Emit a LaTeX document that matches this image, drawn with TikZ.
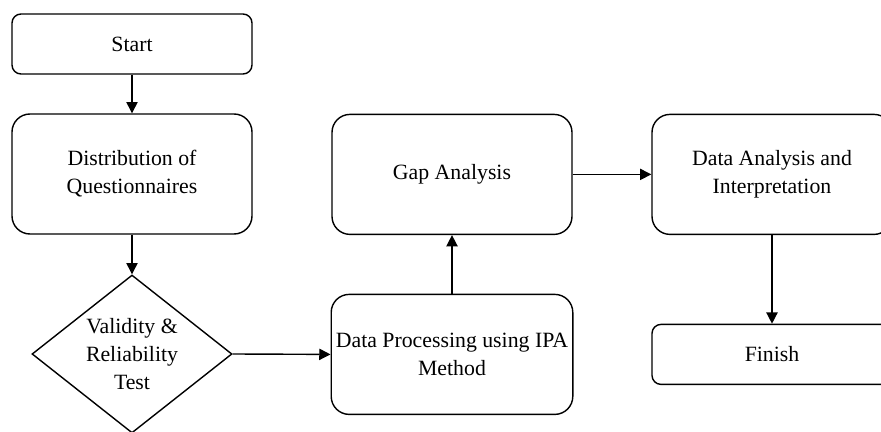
\documentclass[tikz,border=0pt]{standalone}
\usepackage{fontspec}
\setmainfont{Liberation Serif}
\usetikzlibrary{shapes.geometric,arrows.meta}

\begin{document}
\begin{tikzpicture}[
  flowbox/.style={draw, line width=1pt, rounded corners=0.45cm, minimum width=6cm, minimum height=3cm, align=center},
  endbox/.style={draw, line width=1pt, rounded corners=0.225cm, minimum width=6cm, minimum height=1.5cm, align=center},
  decision/.style={draw, line width=1pt, diamond, shape aspect=1.27, inner sep=1pt, minimum width=5cm, minimum height=3.95cm, align=center},
  flowline/.style={line width=1pt, -{Triangle[length=8pt,width=8pt]}},
  font=\fontsize{15.5}{20}\selectfont]
\path[use as bounding box, clip] (0,0) rectangle (22.025,10.8);

\node[endbox] (start) at (3.3,9.7) {Start};
\node[flowbox] (distrib) at (3.3,6.45) {Distribution of\\Questionnaires};
\node[decision] (valid) at (3.3,1.95) {Validity \&\\Reliability\\Test};

\node[flowbox] (process) at (11.3,1.94) {Data Processing using IPA\\Method};
\node[flowbox] (gap) at (11.3,6.44) {Gap Analysis};

\node[flowbox] (interp) at (19.3,6.44) {Data Analysis and\\Interpretation};
\node[endbox] (finish) at (19.3,1.94) {Finish};

\draw [flowline] (start) -- (distrib);
\draw [flowline] (distrib) -- (valid);
\draw [flowline] (valid.east) -- (process.west);
\draw [flowline] (process) -- (gap);
\draw [flowline] (gap) -- (interp);
\draw [flowline] (interp) -- (finish);

\end{tikzpicture}
\end{document}
